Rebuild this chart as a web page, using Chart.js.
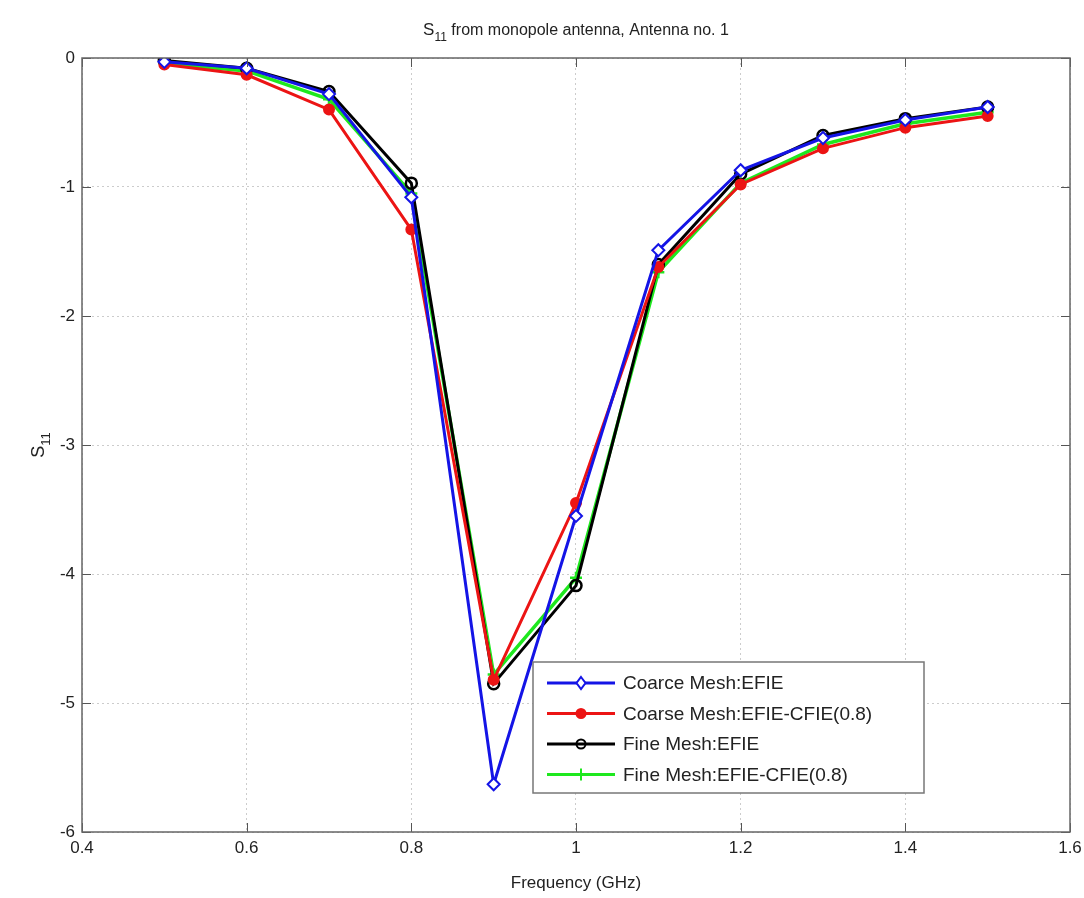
<!DOCTYPE html>
<html>
<head>
<meta charset="utf-8">
<script src="https://cdn.jsdelivr.net/npm/chart.js@4.4.1/dist/chart.umd.min.js"></script>
<style>
html,body{margin:0;padding:0;background:#fff;}
#wrap{width:1084px;height:898px;position:relative;}
</style>
</head>
<body>
<div id="wrap"><canvas id="c" width="1084" height="898"></canvas></div>
<script>
const freq = [0.5, 0.6, 0.7, 0.8, 0.9, 1.0, 1.1, 1.2, 1.3, 1.4, 1.5];
const coarseEFIE = [-0.03, -0.08, -0.28, -1.08, -5.63, -3.55, -1.49, -0.87, -0.62, -0.48, -0.38];
const coarseCFIE = [-0.05, -0.13, -0.40, -1.33, -4.82, -3.45, -1.62, -0.98, -0.70, -0.54, -0.45];
const fineEFIE = [-0.02, -0.08, -0.26, -0.97, -4.85, -4.09, -1.60, -0.90, -0.60, -0.47, -0.38];
const fineCFIE = [-0.04, -0.10, -0.32, -1.05, -4.78, -4.03, -1.66, -0.97, -0.67, -0.51, -0.42];
const xTicks = [0.4, 0.6, 0.8, 1.0, 1.2, 1.4, 1.6];
const yTicks = [0, -1, -2, -3, -4, -5, -6];
const seriesNames = ['Coarce Mesh:EFIE', 'Coarse Mesh:EFIE-CFIE(0.8)', 'Fine Mesh:EFIE', 'Fine Mesh:EFIE-CFIE(0.8)'];

const FONT = '"Liberation Sans Narrow", "Liberation Sans", Arial, sans-serif';
const FONT2 = '"Liberation Sans", Arial, sans-serif';

function pts(arr){ return freq.map((f,i)=>({x:f, y:arr[i]})); }

const datasets = [
  {label: seriesNames[0], data: pts(coarseEFIE), borderColor:'#1414e6', backgroundColor:'#ffffff', pointStyle:'rectRot', pointRadius:6, pointBorderWidth:2, borderWidth:3},
  {label: seriesNames[1], data: pts(coarseCFIE), borderColor:'#ec1414', backgroundColor:'#ec1414', pointStyle:'circle', pointRadius:5, pointBorderWidth:2, borderWidth:3},
  {label: seriesNames[2], data: pts(fineEFIE), borderColor:'#000000', backgroundColor:'rgba(0,0,0,0)', pointStyle:'circle', pointRadius:5.5, pointBorderWidth:2.5, borderWidth:3},
  {label: seriesNames[3], data: pts(fineCFIE), borderColor:'#1ee81e', backgroundColor:'#1ee81e', pointStyle:'cross', pointRadius:6, pointBorderWidth:2.5, borderWidth:3.5}
];

const decor = {
  id:'decor',
  afterDraw(chart){
    const ctx = chart.ctx, a = chart.chartArea;
    const xs = chart.scales.x, ys = chart.scales.y;
    ctx.save();
    ctx.strokeStyle = '#555'; ctx.lineWidth = 1;
    xTicks.forEach(t=>{
      const px = Math.round(xs.getPixelForValue(t))+0.5;
      ctx.beginPath(); ctx.moveTo(px,a.bottom); ctx.lineTo(px,a.bottom-9);
      ctx.moveTo(px,a.top); ctx.lineTo(px,a.top+9); ctx.stroke();
    });
    yTicks.forEach(t=>{
      const py = Math.round(ys.getPixelForValue(t))+0.5;
      ctx.beginPath(); ctx.moveTo(a.left,py); ctx.lineTo(a.left+9,py);
      ctx.moveTo(a.right,py); ctx.lineTo(a.right-9,py); ctx.stroke();
    });
    ctx.strokeStyle = '#666'; ctx.lineWidth = 1.5;
    ctx.strokeRect(a.left, a.top, a.right-a.left, a.bottom-a.top);

    ctx.fillStyle = '#222';
    ctx.textBaseline = 'alphabetic';
    const tMain = ' from monopole antenna, Antenna no. 1';
    ctx.font = '17px ' + FONT;
    const wS = ctx.measureText('S').width;
    ctx.font = '12px ' + FONT;
    const w11 = ctx.measureText('11').width;
    ctx.font = '16px ' + FONT;
    const wMain = ctx.measureText(tMain).width;
    const total = wS + w11 + wMain;
    let tx = 576 - total/2; const ty = 35;
    ctx.textAlign = 'left';
    ctx.font = '17px ' + FONT;
    ctx.fillText('S', tx, ty); tx += wS;
    ctx.font = '12px ' + FONT; ctx.fillText('11', tx, ty+6); tx += w11;
    ctx.font = '16px ' + FONT; ctx.fillText(tMain, tx, ty);

    ctx.font = '17px ' + FONT;
    ctx.textAlign = 'center';
    ctx.fillText('Frequency (GHz)', 576, 888);

    ctx.save();
    ctx.translate(44, 445);
    ctx.rotate(-Math.PI/2);
    ctx.font = '18px ' + FONT2;
    ctx.textAlign = 'left';
    const ws = ctx.measureText('S').width;
    ctx.font = '13px ' + FONT2;
    const w1 = ctx.measureText('11').width;
    const st = -(ws+w1)/2;
    ctx.font = '18px ' + FONT2;
    ctx.fillText('S', st, 0);
    ctx.font = '13px ' + FONT2;
    ctx.fillText('11', st+ws, 6);
    ctx.restore();

    const lx = 533, ly = 662, lw = 391, lh = 131;
    ctx.fillStyle = '#fff';
    ctx.fillRect(lx, ly, lw, lh);
    ctx.strokeStyle = '#777'; ctx.lineWidth = 1.5;
    ctx.strokeRect(lx, ly, lw, lh);
    chart.data.datasets.forEach((ds,i)=>{
      const cy = ly + 21 + i*30.5;
      ctx.strokeStyle = ds.borderColor; ctx.lineWidth = 3;
      ctx.beginPath(); ctx.moveTo(lx+14, cy); ctx.lineTo(lx+82, cy); ctx.stroke();
      const mx = lx+48;
      ctx.lineWidth = 2;
      if (ds.pointStyle === 'rectRot'){
        ctx.fillStyle = '#fff';
        ctx.beginPath(); ctx.moveTo(mx, cy-6); ctx.lineTo(mx+4.5, cy); ctx.lineTo(mx, cy+6); ctx.lineTo(mx-4.5, cy); ctx.closePath();
        ctx.fill(); ctx.stroke();
      } else if (ds.pointStyle === 'circle'){
        ctx.beginPath(); ctx.arc(mx, cy, 4.5, 0, Math.PI*2);
        if (i===1){ ctx.fillStyle = ds.borderColor; ctx.fill(); }
        ctx.stroke();
      } else {
        ctx.beginPath(); ctx.moveTo(mx, cy-6); ctx.lineTo(mx, cy+6); ctx.stroke();
      }
      ctx.fillStyle = '#222';
      ctx.font = '19px ' + FONT2;
      ctx.textAlign = 'left'; ctx.textBaseline = 'middle';
      ctx.fillText(ds.label, lx+90, cy+1);
    });
    ctx.restore();
  }
};

new Chart(document.getElementById('c'), {
  type:'line',
  data:{datasets},
  options:{
    responsive:false,
    animation:false,
    layout:{padding:{left:0, right:14, top:58, bottom:0}},
    plugins:{legend:{display:false}, title:{display:false}, tooltip:{enabled:false}},
    elements:{line:{tension:0}},
    scales:{
      x:{
        type:'linear', min:0.4, max:1.6,
        afterFit(s){ s.height = 66; s.paddingRight = 0; },
        afterBuildTicks(s){ s.ticks = xTicks.map(v=>({value:v})); },
        grid:{color:'#cccccc', lineWidth:1, drawTicks:false},
        border:{display:false, dash:[2,3]},
        ticks:{color:'#222', font:{family:FONT, size:17}, padding:6, maxRotation:0,
          callback:(v)=>String(Math.round(v*10)/10)}
      },
      y:{
        type:'linear', min:-6, max:0,
        afterFit(s){ s.width = 82; },
        afterBuildTicks(s){ s.ticks = yTicks.map(v=>({value:v})); },
        grid:{color:'#cccccc', lineWidth:1, drawTicks:false},
        border:{display:false, dash:[2,3]},
        ticks:{color:'#222', font:{family:FONT, size:17}, padding:7,
          callback:(v)=>String(v)}
      }
    }
  },
  plugins:[decor]
});
</script>
</body>
</html>
